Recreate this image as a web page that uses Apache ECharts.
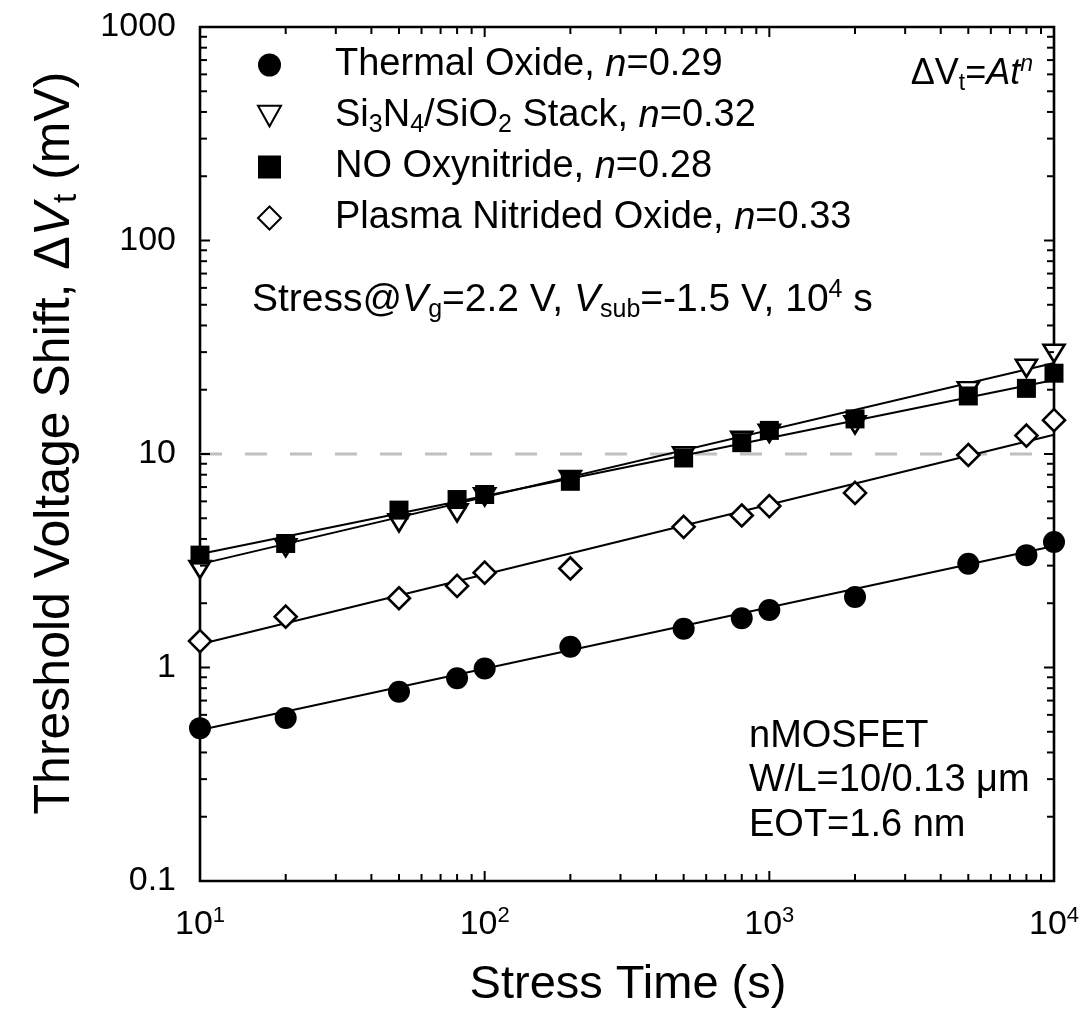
<!DOCTYPE html>
<html>
<head>
<meta charset="utf-8">
<script src="https://cdn.jsdelivr.net/npm/echarts@6/dist/echarts.min.js"></script>
<style>
  html, body { margin: 0; padding: 0; background: #fff; }
  #chart { width: 1089px; height: 1019px; }
</style>
</head>
<body>
<div id="chart"></div>
<script>
// Stress times (s) and measured threshold-voltage shifts (mV)
const stressTime     = [10, 20, 50, 80, 100, 200, 500, 800, 1000, 2000, 5000, 8000, 10000];
const thermalOxide   = [0.52, 0.58, 0.77, 0.89, 0.99, 1.25, 1.52, 1.70, 1.86, 2.14, 3.06, 3.36, 3.87];
const nitrideStack   = [2.88, 3.64, 4.76, 5.30, 6.30, 7.59, 9.80, 11.6, 12.5, 13.7, 19.8, 25.2, 29.6];
const noOxynitride   = [3.36, 3.81, 5.46, 6.12, 6.46, 7.45, 9.58, 11.3, 12.9, 14.6, 18.7, 20.3, 23.9];
const plasmaNitrided = [1.33, 1.73, 2.11, 2.41, 2.78, 2.91, 4.56, 5.15, 5.70, 6.57, 9.89, 12.2, 14.4];

// Power-law fits dVt = A t^n, straight on log-log axes: values at both ends of the time range
const fitTime    = [10, 10000];
const thermalFit = [0.51, 3.71];
const nitrideFit = [3.05, 26.7];
const noFit      = [3.40, 22.2];
const plasmaFit  = [1.285, 12.3];

const seriesNames = ['Thermal Oxide', 'Si3N4/SiO2 Stack', 'NO Oxynitride', 'Plasma Nitrided Oxide'];
const legendLabels = [
  'Thermal Oxide, {i|n}=0.29',
  'Si{sub|3}N{sub|4}/SiO{sub|2} Stack, {i|n}=0.32',
  'NO Oxynitride, {i|n}=0.28',
  'Plasma Nitrided Oxide, {i|n}=0.33'
];
// Downward-pointing triangle used for the nitride stack
const downTriangle = 'path://M0,0L20,0L10,18Z';
const legendIcons = ['circle', downTriangle, 'rect', 'diamond'];

// Failure criterion drawn as a dashed reference line (mV)
const referenceShift = 10;

// Axis ticks
const xTickValues = [10, 100, 1000, 10000];
const xTickLabels = ['10{sup|1}', '10{sup|2}', '10{sup|3}', '10{sup|4}'];
const yTickValues = [0.1, 1, 10, 100, 1000];
const yTickLabels = ['0.1', '1', '10', '100', '1000'];

const FONT = 'Liberation Sans, Arial, Helvetica, sans-serif';

const richText = (size) => ({
  n:   { fontSize: size, fontFamily: FONT, color: '#000', lineHeight: size + 6 },
  i:   { fontSize: size, fontFamily: FONT, color: '#000', fontStyle: 'italic', lineHeight: size + 6 },
  sub: { fontSize: Math.round(size * 0.65), fontFamily: FONT, color: '#000', verticalAlign: 'bottom', lineHeight: Math.round(size * 0.62) },
  sup: { fontSize: Math.round(size * 0.65), fontFamily: FONT, color: '#000', verticalAlign: 'top', lineHeight: Math.round(size * 0.62) },
  isup: { fontSize: Math.round(size * 0.65), fontFamily: FONT, color: '#000', fontStyle: 'italic', verticalAlign: 'top', lineHeight: Math.round(size * 0.62) }
});

const pairs = (xs, ys) => xs.map((x, k) => [x, ys[k]]);

const fitLine = (data) => ({
  type: 'line', data: pairs(fitTime, data), symbol: 'none', silent: true, z: 2,
  lineStyle: { color: '#000', width: 2 }
});

const solidStyle  = { color: '#000', borderColor: '#000', borderWidth: 0, opacity: 1 };
const hollowStyle = { color: '#fff', borderColor: '#000', borderWidth: 2.6, opacity: 1 };

const chart = echarts.init(document.getElementById('chart'), null, { renderer: 'canvas' });

chart.setOption({
  animation: false,
  backgroundColor: '#fff',
  grid: {
    left: 200, right: 35, top: 27, bottom: 138,
    show: true, borderColor: '#000', borderWidth: 2.6, backgroundColor: 'transparent',
    containLabel: false, outerBoundsMode: 'none'
  },
  xAxis: {
    type: 'log', logBase: 10, min: 10, max: 10000,
    axisLine: { show: false }, axisTick: { show: false }, splitLine: { show: false },
    minorTick: { show: false }, minorSplitLine: { show: false },
    axisLabel: {
      margin: 24, color: '#000', fontSize: 34, fontFamily: FONT,
      formatter: (v) => xTickLabels[Math.round(Math.log10(v)) - 1],
      rich: { sup: { fontSize: 22, fontFamily: FONT, color: '#000', verticalAlign: 'top', lineHeight: 20 } },
      lineHeight: 40
    }
  },
  yAxis: {
    type: 'log', logBase: 10, min: 0.1, max: 1000,
    axisLine: { show: false }, axisTick: { show: false }, splitLine: { show: false },
    minorTick: { show: false }, minorSplitLine: { show: false },
    axisLabel: {
      margin: 24, color: '#000', fontSize: 34, fontFamily: FONT,
      formatter: (v) => yTickLabels[Math.round(Math.log10(v)) + 1]
    }
  },
  legend: {
    data: seriesNames.map((name, k) => ({ name: name, icon: legendIcons[k] })),
    orient: 'vertical', left: 252, top: 38,
    itemWidth: 23, itemHeight: 23, itemGap: 7,
    selectedMode: false,
    formatter: (name) => legendLabels[seriesNames.indexOf(name)],
    textStyle: {
      fontSize: 38, fontFamily: FONT, color: '#000', lineHeight: 44,
      padding: [0, 0, 0, 49],
      rich: richText(38)
    }
  },
  series: [
    {
      type: 'line', silent: true, z: 1, symbol: 'none',
      data: pairs(fitTime, [referenceShift, referenceShift]),
      lineStyle: { color: '#c0c0c0', width: 3, type: [22, 23] }
    },
    fitLine(thermalFit),
    fitLine(nitrideFit),
    fitLine(noFit),
    fitLine(plasmaFit),
    {
      name: seriesNames[0], type: 'scatter', z: 5, symbol: 'circle', symbolSize: 22,
      data: pairs(stressTime, thermalOxide), itemStyle: solidStyle
    },
    {
      name: seriesNames[1], type: 'scatter', z: 5, symbol: downTriangle, symbolKeepAspect: true, symbolSize: [21, 19],
      data: pairs(stressTime, nitrideStack), itemStyle: hollowStyle
    },
    {
      name: seriesNames[2], type: 'scatter', z: 5, symbol: 'rect', symbolSize: 19,
      data: pairs(stressTime, noOxynitride), itemStyle: solidStyle
    },
    {
      name: seriesNames[3], type: 'scatter', z: 5, symbol: 'diamond', symbolSize: 22,
      data: pairs(stressTime, plasmaNitrided), itemStyle: hollowStyle
    }
  ]
});

// Inward ticks on all four sides of the frame, with log minor ticks
function frameTicks() {
  const px = (v) => chart.convertToPixel({ xAxisIndex: 0 }, v);
  const py = (v) => chart.convertToPixel({ yAxisIndex: 0 }, v);
  const x0 = px(xTickValues[0]), x1 = px(xTickValues[xTickValues.length - 1]);
  const y0 = py(yTickValues[0]), y1 = py(yTickValues[yTickValues.length - 1]);
  const els = [];
  const seg = (a, b, c, d) => els.push({
    type: 'line', silent: true, z: 10,
    shape: { x1: a, y1: b, x2: c, y2: d },
    style: { stroke: '#000', lineWidth: 2 }
  });
  const majorLen = 10, minorLen = 7;
  const logTicks = (decades) => {
    const out = [];
    decades.forEach((d, k) => {
      out.push([d, true]);
      if (k < decades.length - 1) for (let m = 2; m <= 9; m++) out.push([d * m, false]);
    });
    return out;
  };
  logTicks(xTickValues).forEach(([v, major]) => {
    const x = px(v), len = major ? majorLen : minorLen;
    seg(x, y0, x, y0 - len);
    seg(x, y1, x, y1 + len);
  });
  logTicks(yTickValues).forEach(([v, major]) => {
    const y = py(v), len = major ? majorLen : minorLen;
    seg(x0, y, x0 + len, y);
    seg(x1, y, x1 - len, y);
  });
  return els;
}

const annotations = [
  {
    type: 'text', x: 1033, y: 74, silent: true, z: 20,
    style: {
      text: '{n|ΔV}{sub|t}{n|=}{i|At}{isup|n}',
      rich: richText(36), align: 'right', verticalAlign: 'middle'
    }
  },
  {
    type: 'text', x: 252, y: 300, silent: true, z: 20,
    style: {
      text: '{n|Stress@}{i|V}{sub|g}{n|=2.2 V, }{i|V}{sub|sub}{n|=-1.5 V, 10}{sup|4}{n| s}',
      rich: richText(39), align: 'left', verticalAlign: 'middle'
    }
  },
  {
    type: 'text', x: 749, y: 781, silent: true, z: 20,
    style: {
      text: 'nMOSFET\nW/L=10/0.13 μm\nEOT=1.6 nm',
      fontSize: 38, fontFamily: FONT, fill: '#000', lineHeight: 44.5,
      align: 'left', verticalAlign: 'middle'
    }
  },
  {
    type: 'text', x: 628, y: 985, silent: true, z: 20,
    style: {
      text: 'Stress Time (s)', fontSize: 47, fontFamily: FONT, fill: '#000',
      align: 'center', verticalAlign: 'middle'
    }
  },
  {
    type: 'text', x: 55, y: 443, rotation: Math.PI / 2, silent: true, z: 20,
    style: {
      text: '{n|Threshold Voltage Shift, Δ}{i|V}{sub|t}{n| (mV)}',
      rich: richText(50), align: 'center', verticalAlign: 'middle'
    }
  }
];

chart.setOption({ graphic: { elements: annotations.concat(frameTicks()) } });
</script>
</body>
</html>
